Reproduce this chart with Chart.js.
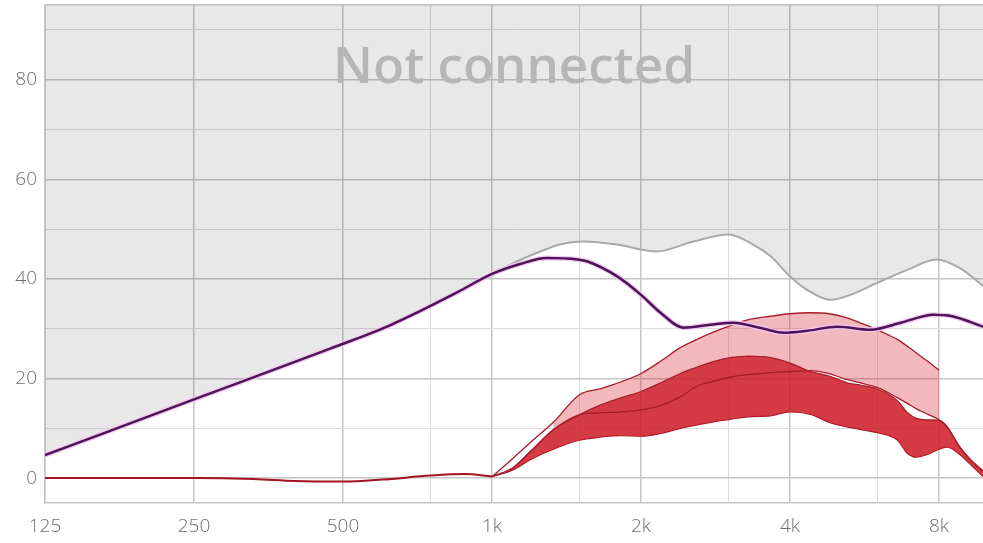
<!DOCTYPE html>
<html>
<head>
<meta charset="utf-8">
<script src="https://cdn.jsdelivr.net/npm/chart.js@4.4.1/dist/chart.umd.min.js"></script>
<style>
  html, body { margin: 0; padding: 0; background: #fff; }
  #wrap { width: 983px; height: 543px; }
</style>
</head>
<body>
<div id="wrap"><canvas id="gain-chart" width="983" height="543"></canvas></div>
<script>
// Axis ticks
const xTickValues = [125, 250, 500, 750, 1000, 1500, 2000, 3000, 4000, 6000, 8000];
const xTickLabels = ['125', '250', '500', '', '1k', '', '2k', '', '4k', '', '8k'];
const yTickValues = [0, 10, 20, 30, 40, 50, 60, 70, 80, 90, 95];
const yTickLabels = ['0', '', '20', '', '40', '', '60', '', '80', '', ''];

// Purple curve
const purpleFreqs = [125, 250, 471, 600, 707, 850, 1000, 1140, 1290, 1490, 1560, 1790, 2000, 2190, 2440, 2760, 3070, 3470, 3880, 4340, 4980, 5820, 6700, 7800, 8500, 9815];
const purpleLevels = [4.6, 15.8, 26.0, 30.0, 33.3, 37.3, 41.0, 43.0, 44.2, 43.9, 43.5, 40.5, 36.8, 33.2, 30.2, 30.8, 31.2, 30.2, 29.2, 29.6, 30.4, 29.8, 31.2, 32.8, 32.5, 30.4];

// Grey curve (joins the purple one below 1k)
const grayFreqs = [1000, 1140, 1290, 1370, 1530, 1790, 2150, 2550, 3000, 3370, 3660, 4000, 4380, 4830, 5300, 6000, 6900, 7900, 8800, 9815];
const grayLevels = [41.0, 43.8, 46.0, 46.9, 47.5, 46.9, 45.5, 47.5, 48.9, 46.9, 44.5, 40.5, 37.5, 35.8, 36.8, 39.2, 41.8, 43.9, 42.2, 38.6];

// Low red line up to 1k
const baseFreqs = [125, 250, 330, 400, 500, 600, 750, 880, 1000];
const baseLevels = [0, 0, -0.2, -0.6, -0.7, -0.3, 0.5, 0.8, 0.3];

// Red bands above 1k
const bandFreqs = [1000, 1100, 1200, 1330, 1500, 1650, 1820, 2000, 2200, 2400, 2600, 2800, 3030, 3300, 3650, 4000, 4400, 4800, 5200, 5600, 6000, 6300, 6600, 6900, 7200, 7600, 8000, 8300, 8800, 9200, 9815];
const midLevels = [0.3, 2.0, 5.5, 9.7, 12.7, 13.1, 13.3, 13.7, 14.6, 16.3, 18.5, 19.4, 20.3, 20.8, 21.2, 21.4, 21.6, 21.0, 19.8, 19.0, 18.2, 17.2, 16.1, 15.0, 13.9, 12.8, 11.7, 10.4, 6.3, 4.0, 1.2];
const darkUpper = [0.3, 2.0, 5.5, 9.7, 12.7, 14.6, 16.1, 17.4, 19.2, 21.0, 22.3, 23.4, 24.2, 24.5, 24.2, 23.1, 21.4, 20.5, 19.2, 18.6, 17.9, 16.9, 15.5, 13.2, 12.0, 11.7, 11.6, 10.2, 6.3, 4.0, 1.5];
const darkLower = [0.3, 1.6, 3.8, 5.8, 7.6, 8.2, 8.5, 8.4, 9.0, 10.0, 10.7, 11.3, 11.8, 12.3, 12.5, 13.3, 12.8, 11.2, 10.3, 9.7, 9.1, 8.6, 7.6, 5.0, 4.2, 4.8, 5.8, 6.2, 4.8, 3.0, 0.3];
const pinkUpper = [0.3, 3.9, 7.3, 11.2, 16.7, 17.9, 19.3, 21.0, 23.6, 26.2, 27.9, 29.3, 30.6, 31.8, 32.5, 33.0, 33.2, 33.0, 32.2, 31.0, 29.8, 28.8, 27.8, 26.5, 25.1, 23.4, 21.7, null, null, null, null];

const xMajor = [125, 250, 500, 1000, 2000, 4000, 8000];

function pts(freqs, levels) {
    return freqs.map((f, i) => ({ x: f, y: levels[i] }));
}

// grey line carries the purple points below 1k so the shaded area is closed
const grayData = pts(purpleFreqs, purpleLevels).filter(p => p.x < 1000).concat(pts(grayFreqs, grayLevels));
// pink shading only where the band opens up (from ~1.3k to 8k), resting on the dark band
const pinkArea = bandFreqs.map((f, i) => ({ x: f, y: f >= 1330 ? pinkUpper[i] : null }));
const pinkBase = bandFreqs.map((f, i) => ({ x: f, y: (f >= 1330 && f <= 8000) ? Math.max(midLevels[i], darkUpper[i]) : null }));

const edgeColor = '#a51d2a';

const notConnected = {
    id: 'notConnected',
    afterDatasetsDraw(chart) {
        const { ctx, chartArea } = chart;
        ctx.save();
        ctx.font = '600 51px "Open Sans"';
        ctx.fillStyle = '#b6b6b6';
        ctx.textAlign = 'center';
        ctx.textBaseline = 'alphabetic';
        ctx.fillText('Not connected', (chartArea.left + chartArea.right) / 2, 83);
        ctx.restore();
    }
};

Chart.defaults.font.family = "'Open Sans', sans-serif";

const ctx = document.getElementById('gain-chart').getContext('2d');
new Chart(ctx, {
    type: 'line',
    data: {
        datasets: [
            { data: pts(purpleFreqs, purpleLevels), borderColor: '#4e1358', borderWidth: 2.5, cubicInterpolationMode: 'monotone', fill: false },
            { data: pts(purpleFreqs, purpleLevels), borderColor: '#f2c9ef', borderWidth: 5, cubicInterpolationMode: 'monotone', fill: false },
            { data: grayData, borderColor: '#a9a9a9', borderWidth: 2, cubicInterpolationMode: 'monotone', fill: 'end', backgroundColor: 'rgba(0,0,0,0.09)' },
            { data: pts(baseFreqs, baseLevels), borderColor: '#a3141f', borderWidth: 2, cubicInterpolationMode: 'monotone', fill: false },
            { data: pts(bandFreqs, midLevels), borderColor: edgeColor, borderWidth: 1.3, cubicInterpolationMode: 'monotone', fill: false },
            { data: pts(bandFreqs, pinkUpper), borderColor: edgeColor, borderWidth: 1.3, cubicInterpolationMode: 'monotone', fill: false },
            { data: pts(bandFreqs, darkUpper), borderColor: edgeColor, borderWidth: 1.2, cubicInterpolationMode: 'monotone', fill: '+1', backgroundColor: 'rgba(205,25,35,0.85)' },
            { data: pts(bandFreqs, darkLower), borderColor: edgeColor, borderWidth: 1.2, cubicInterpolationMode: 'monotone', fill: false },
            { data: pinkArea, borderWidth: 0, borderColor: 'rgba(0,0,0,0)', cubicInterpolationMode: 'monotone', fill: '+1', backgroundColor: 'rgba(220,40,50,0.33)' },
            { data: pinkBase, borderWidth: 0, borderColor: 'rgba(0,0,0,0)', cubicInterpolationMode: 'monotone', fill: false }
        ]
    },
    options: {
        responsive: false,
        animation: false,
        devicePixelRatio: 1,
        layout: { padding: { top: 5, left: 0, right: 0, bottom: 0 } },
        elements: { point: { radius: 0 } },
        plugins: {
            legend: { display: false },
            tooltip: { enabled: false }
        },
        scales: {
            x: {
                type: 'logarithmic',
                min: 125,
                max: 9815,
                afterBuildTicks: scale => { scale.ticks = xTickValues.map(v => ({ value: v })); },
                afterFit: scale => {
                    scale.height = 40;
                    scale.paddingLeft = 0;
                    scale.paddingRight = 0;
                },
                grid: {
                    drawTicks: false,
                    color: c => (c.tick && xMajor.includes(c.tick.value)) ? '#c6c6c6' : '#dcdcdc',
                    lineWidth: c => (c.tick && xMajor.includes(c.tick.value)) ? 1.5 : 1
                },
                border: { color: '#c6c6c6', width: 1.5 },
                ticks: {
                    autoSkip: false,
                    maxRotation: 0,
                    padding: 12,
                    color: '#6e6e6e',
                    font: { size: 19, weight: 300 },
                    callback: (value) => {
                        const i = xTickValues.indexOf(value);
                        return i >= 0 ? xTickLabels[i] : '';
                    }
                }
            },
            y: {
                min: -5,
                max: 95,
                afterBuildTicks: scale => { scale.ticks = yTickValues.map(v => ({ value: v })); },
                afterFit: scale => {
                    scale.width = 45;
                    scale.paddingTop = 0;
                    scale.paddingBottom = 0;
                },
                grid: {
                    drawTicks: false,
                    color: c => (c.tick && (c.tick.value % 20 === 0 || c.tick.value === 95)) ? '#c6c6c6' : '#dcdcdc',
                    lineWidth: c => (c.tick && (c.tick.value % 20 === 0 || c.tick.value === 95)) ? 1.5 : 1
                },
                border: { color: '#c6c6c6', width: 1.5 },
                ticks: {
                    autoSkip: false,
                    padding: 8,
                    color: '#6e6e6e',
                    font: { size: 19, weight: 300 },
                    callback: (value) => {
                        const i = yTickValues.indexOf(value);
                        return i >= 0 ? yTickLabels[i] : '';
                    }
                }
            }
        }
    },
    plugins: [notConnected]
});
</script>
</body>
</html>
